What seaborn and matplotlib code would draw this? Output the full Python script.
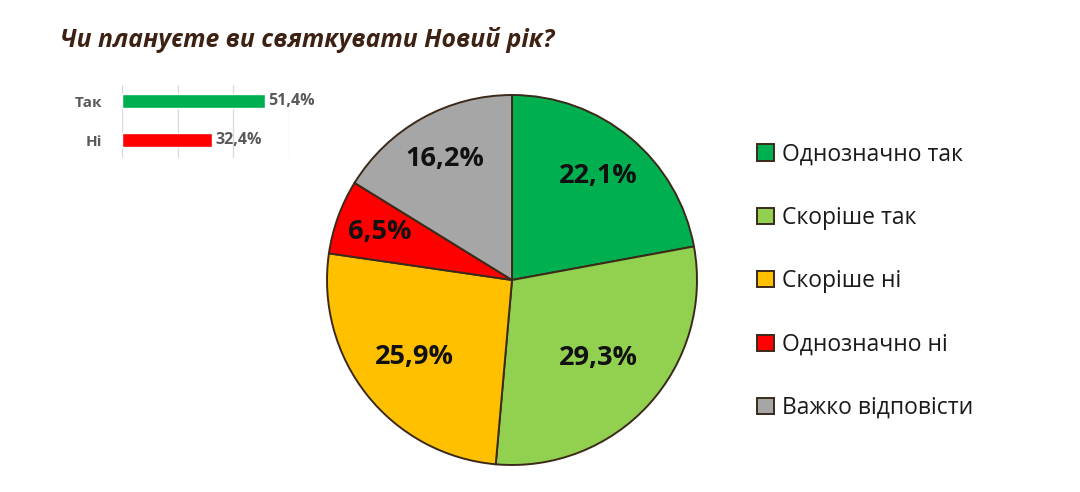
import numpy as np
import pandas as pd
import matplotlib
matplotlib.use("Agg")
import matplotlib.pyplot as plt
import seaborn as sns

# data
title = "Чи плануєте ви святкувати Новий рік?"

summary_labels = ["Так", "Ні"]
summary_values = [51.4, 32.4]
summary_colors = ["#00B050", "#FF0000"]

answer_labels = ["Однозначно так", "Скоріше так", "Скоріше ні",
                 "Однозначно ні", "Важко відповісти"]
answer_values = [22.1, 29.3, 25.9, 6.5, 16.2]
answer_colors = ["#00B050", "#92D050", "#FFC000", "#FF0000", "#A6A6A6"]
# how far from the centre each percentage sits (fraction of radius)
label_dist = [0.73, 0.63, 0.67, 0.76, 0.75]

sns.set_style("white")
plt.rcParams['font.family'] = ['Open Sans', 'DejaVu Sans']

W, H = 1080, 492
fig = plt.figure(figsize=(W / 100, H / 100), dpi=100)
fig.patch.set_facecolor("white")

def px_axes(x0, y0, x1, y1):
    # axes box given in pixel coords (top-left origin)
    return fig.add_axes([x0 / W, 1 - y1 / H, (x1 - x0) / W, (y1 - y0) / H])

# title
fig.text(60 / W, 1 - 40 / H, title, fontsize=17.8, fontweight="bold",
         fontstyle="italic", color="#3D2213", va="center", ha="left")

# ---- small summary bar chart ----
ax_bar = px_axes(122, 85, 289, 158)
df_sum = pd.DataFrame({"label": summary_labels, "value": summary_values})
sns.barplot(data=df_sum, x="value", y="label", hue="label",
            palette=summary_colors, saturation=1, orient="h", width=0.36,
            legend=False, ax=ax_bar)
ax_bar.set_xlim(0, 60)
ax_bar.set_ylim(1.46, -0.41)
ax_bar.set_xticks([0, 20, 40, 60])
ax_bar.xaxis.grid(True, color="#D9D9D9", linewidth=0.9)
ax_bar.set_axisbelow(True)
ax_bar.tick_params(axis="x", length=0, labelbottom=False)
ax_bar.tick_params(axis="y", length=0, pad=14, labelsize=11, labelcolor="#595959")
for t in ax_bar.get_yticklabels():
    t.set_fontweight("bold")
for s in ax_bar.spines.values():
    s.set_visible(False)
ax_bar.set_xlabel("")
ax_bar.set_ylabel("")
for i, v in enumerate(summary_values):
    ax_bar.text(v + 1.0, i, f"{v:.1f}%".replace(".", ","), va="center",
                ha="left", fontsize=11.5, fontweight="bold", color="#595959")

# ---- pie chart ----
cx, cy, r = 512, 280, 185
pad = 5
ax_pie = px_axes(cx - r - pad, cy - r - pad, cx + r + pad, cy + r + pad)
wedges, texts, autotexts = ax_pie.pie(
    answer_values, colors=answer_colors, startangle=90, counterclock=False,
    autopct=lambda p: f"{p:.1f}%".replace(".", ","), pctdistance=0.7,
    wedgeprops=dict(edgecolor="#3B2A1A", linewidth=1.4),
    textprops=dict(fontsize=19.5, fontweight="bold", color="#111111"))
for w, t, d in zip(wedges, autotexts, label_dist):
    mid = np.deg2rad((w.theta1 + w.theta2) / 2)
    t.set_position((d * np.cos(mid), d * np.sin(mid)))
lim = (r + pad) / r
ax_pie.set_xlim(-lim, lim)
ax_pie.set_ylim(-lim, lim)
ax_pie.set_aspect("equal")

# ---- legend ----
fig.legend(wedges, answer_labels, loc="upper left",
           bbox_to_anchor=(746 / W, 1 - 131 / H), frameon=False,
           fontsize=16.5, handlelength=0.72, handleheight=0.72,
           handletextpad=0.35, labelspacing=1.72, borderpad=0,
           labelcolor="#1A1A1A")

fig.savefig("out.png", dpi=100, facecolor="white")
